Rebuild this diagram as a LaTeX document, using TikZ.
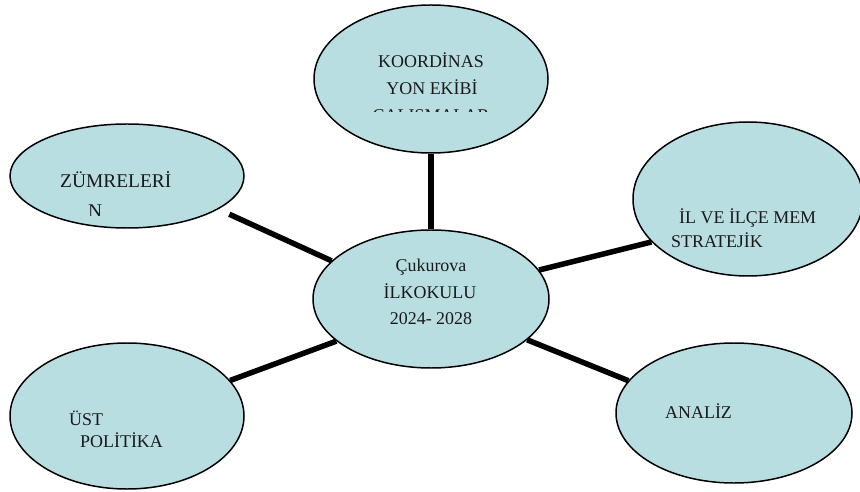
\documentclass[tikz,border=0pt]{standalone}
\usepackage{fontspec}
\setmainfont{Liberation Serif}
\usetikzlibrary{shapes.geometric}
\definecolor{bubblefill}{RGB}{184,222,226}
\tikzset{
  bubble/.style={ellipse, draw=black, line width=1.5pt, fill=bubblefill, inner sep=0pt},
  link/.style={line width=5.5bp},
  txt/.style={inner sep=0pt, text=black!90, font=\fontsize{18}{22}\selectfont}
}

\begin{document}
\begin{tikzpicture}[x=1bp,y=-1bp]
\useasboundingbox (0,0) rectangle (860,492);

% 椭圆
\node[bubble, minimum width=234bp, minimum height=148bp] (koord) at (431,79) {};
\node[bubble, minimum width=234bp, minimum height=104bp] (zum) at (127,176) {};
\node[bubble, minimum width=230bp, minimum height=154bp] (il) at (748,199) {};
\node[bubble, minimum width=236bp, minimum height=138bp] (hub) at (431,299) {};
\node[bubble, minimum width=234bp, minimum height=146bp] (ust) at (127,416) {};
\node[bubble, minimum width=236bp, minimum height=140bp] (analiz) at (734,413) {};

% 连线
\draw[link] (koord.south) -- (hub.north);
\draw[link, shorten <=12bp] (zum.-20) -- (hub.159);
\draw[link] (hub.15) -- (il.204);
\draw[link] (ust.19) -- (hub.204);
\draw[link] (hub.-23) -- (analiz.163);

% 文字
\node[txt, anchor=base] (koord-1) at (431,68) {KOORDİNAS};
\node[txt, anchor=base] (koord-2) at (432,95) {YON EKİBİ};
\begin{scope}
  \clip (300,0) rectangle (560,112);
  \node[txt, anchor=base] (koord-3) at (431,122) {ÇALIŞMALAR};
\end{scope}

\node[txt, anchor=base west, font=\fontsize{19.5}{22}\selectfont] (zum-1) at (60,188) {ZÜMRELERİ};
\begin{scope}
  \clip (0,150) rectangle (250,216);
  \node[txt, anchor=base west, font=\fontsize{19.5}{22}\selectfont] (zum-2) at (88,218) {N};
\end{scope}

\node[txt, anchor=base west] (il-1) at (679,224) {İL VE İLÇE MEM};
\node[txt, anchor=base west] (il-2) at (671,248) {STRATEJİK};

\node[txt, anchor=base] (hub-1) at (431,272) {Çukurova};
\node[txt, anchor=base] (hub-2) at (430,299) {İLKOKULU};
\node[txt, anchor=base] (hub-3) at (431,325) {2024- 2028};

\node[txt, anchor=base west] (ust-1) at (69,425) {ÜST};
\node[txt, anchor=base west] (ust-2) at (80,447) {POLİTİKA};

\node[txt, anchor=base west] (analiz-1) at (665,418) {ANALİZ};
\end{tikzpicture}
\end{document}
